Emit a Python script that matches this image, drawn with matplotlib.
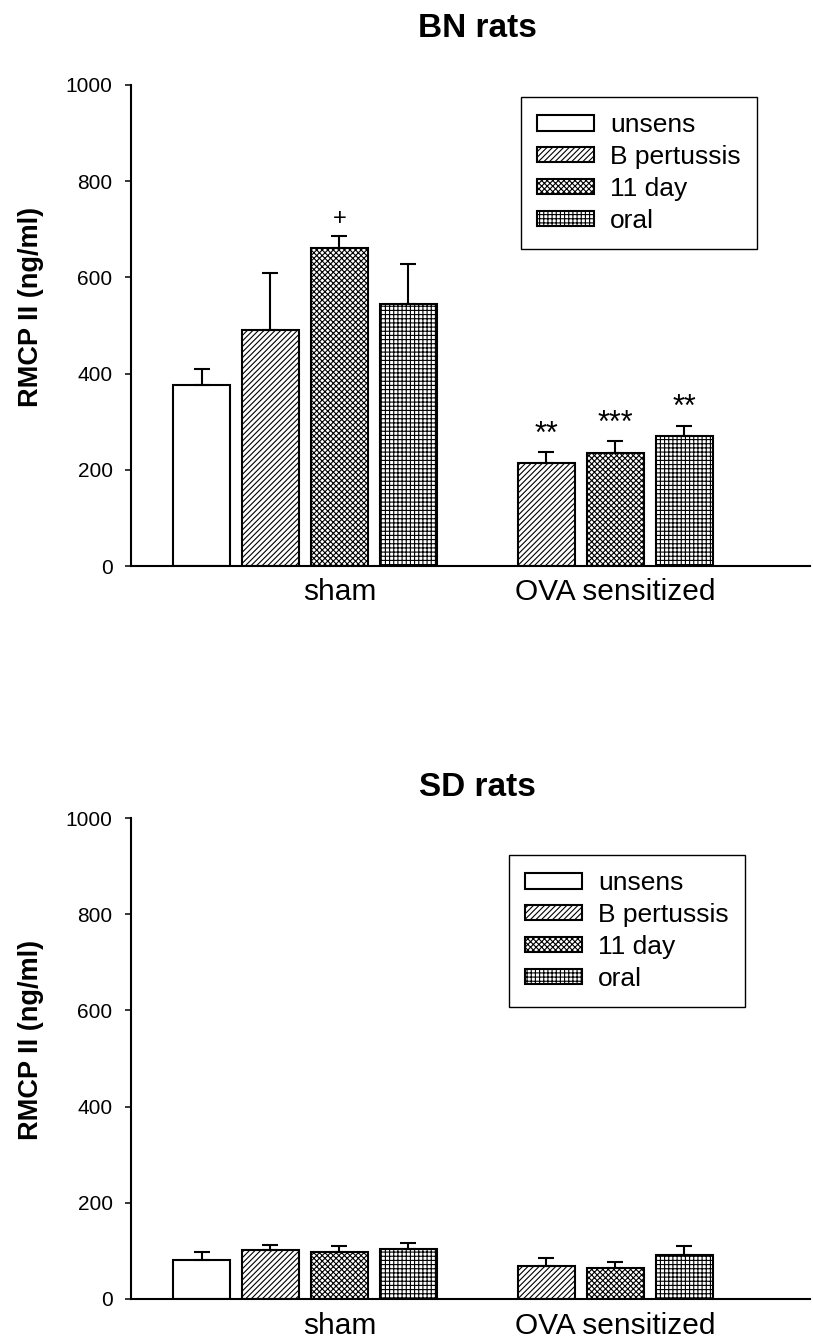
import numpy as np
import matplotlib
matplotlib.use("Agg")
import matplotlib.pyplot as plt

plt.rcParams['font.family'] = ['Liberation Sans', 'DejaVu Sans']
plt.rcParams['hatch.linewidth'] = 0.8
plt.rcParams['hatch.color'] = 'black'

# ---- data -------------------------------------------------------------
groups = ["sham", "OVA sensitized"]
treatments = ["unsens", "B pertussis", "11 day", "oral"]
hatches = ["", "//////", "xxxxxx", "++++"]

# BN rats: RMCP II (ng/ml), mean and SEM (NaN = group not tested)
bn_sham = [377, 490, 662, 544]
bn_sham_err = [32, 120, 24, 84]
bn_ova = [np.nan, 214, 234, 271]
bn_ova_err = [np.nan, 22, 25, 20]
bn_sham_marks = ["", "", "+", ""]
bn_ova_marks = ["", "**", "***", "**"]

# SD rats
sd_sham = [82, 101, 98, 104]
sd_sham_err = [15, 11, 12, 12]
sd_ova = [np.nan, 68, 65, 91]
sd_ova_err = [np.nan, 17, 11, 19]
sd_sham_marks = ["", "", "", ""]
sd_ova_marks = ["", "", "", ""]

yticks = [0, 200, 400, 600, 800, 1000]

# ---- figure -----------------------------------------------------------
W, H = 813, 1342
fig = plt.figure(figsize=(W / 100, H / 100), dpi=100)


def px_rect(left, top, right, bottom):
    return [left / W, 1 - bottom / H, (right - left) / W, (bottom - top) / H]


def draw_panel(ax, sham, sham_err, ova, ova_err, sham_marks, ova_marks):
    slots_per_group = len(treatments)
    bar_w = 0.826
    for i, (name, hatch) in enumerate(zip(treatments, hatches)):
        xs, hs, es, ms = [], [], [], []
        for g, (vals, errs, marks) in enumerate(
                [(sham, sham_err, sham_marks), (ova, ova_err, ova_marks)]):
            if np.isnan(vals[i]):
                continue
            xs.append(g * slots_per_group + i)
            hs.append(vals[i])
            es.append(errs[i])
            ms.append(marks[i])
        ax.bar(xs, hs, width=bar_w, color="white", edgecolor="black",
               linewidth=1.5, hatch=hatch, label=name, zorder=2)
        ax.errorbar(xs, hs, yerr=[np.zeros(len(es)), es], fmt="none",
                    ecolor="black", elinewidth=1.5, capsize=5.5,
                    capthick=1.5, zorder=3)
        for x, h, e, m in zip(xs, hs, es, ms):
            if not m:
                continue
            if m == "+":
                ax.annotate(m, (x, h + e), xytext=(0, 8),
                            textcoords="offset points", ha="center",
                            va="baseline", fontsize=17)
            else:
                ax.annotate(m, (x, h + e), xytext=(0, 7),
                            textcoords="offset points", ha="center",
                            va="baseline", fontsize=22)

    ax.set_xlim(-1.022, 8.82)
    ax.set_ylim(0, 1000)
    ax.set_yticks(yticks)
    ax.set_xticks([g * slots_per_group + 2 for g in range(len(groups))])
    ax.set_xticklabels(groups, fontsize=21.5)
    ax.tick_params(axis="x", length=0, pad=9)
    ax.tick_params(axis="y", length=4.3, width=1.1, pad=9, labelsize=15)
    for s in ("top", "right"):
        ax.spines[s].set_visible(False)
    for s in ("left", "bottom"):
        ax.spines[s].set_linewidth(1.5)


def add_legend(ax, left, top):
    ax.legend(loc="upper left", bbox_to_anchor=(left / W, 1 - top / H),
              bbox_transform=fig.transFigure, borderaxespad=0,
              fontsize=19, frameon=True, fancybox=False, shadow=False,
              edgecolor="black", framealpha=1, handlelength=2.15,
              handleheight=0.5, handletextpad=0.6, labelspacing=0.3,
              borderpad=0.62).get_frame().set_linewidth(1.0)


ax1 = fig.add_axes(px_rect(131, 85, 810, 566))
draw_panel(ax1, bn_sham, bn_sham_err, bn_ova, bn_ova_err,
           bn_sham_marks, bn_ova_marks)
add_legend(ax1, 521, 97)

ax2 = fig.add_axes(px_rect(131, 818, 810, 1299))
draw_panel(ax2, sd_sham, sd_sham_err, sd_ova, sd_ova_err,
           sd_sham_marks, sd_ova_marks)
add_legend(ax2, 509, 855)

# panel titles and y-axis labels
fig.text(477 / W, 1 - 37 / H, "BN rats", ha="center", va="baseline",
         fontsize=24, fontweight="bold")
fig.text(477 / W, 1 - 796 / H, "SD rats", ha="center", va="baseline",
         fontsize=24, fontweight="bold")
for yc in (307, 1040):
    fig.text(31.5 / W, 1 - yc / H, "RMCP II (ng/ml)", rotation=90,
             ha="center", va="center", fontsize=19.5, fontweight="bold")

fig.savefig("out.png", dpi=100)
